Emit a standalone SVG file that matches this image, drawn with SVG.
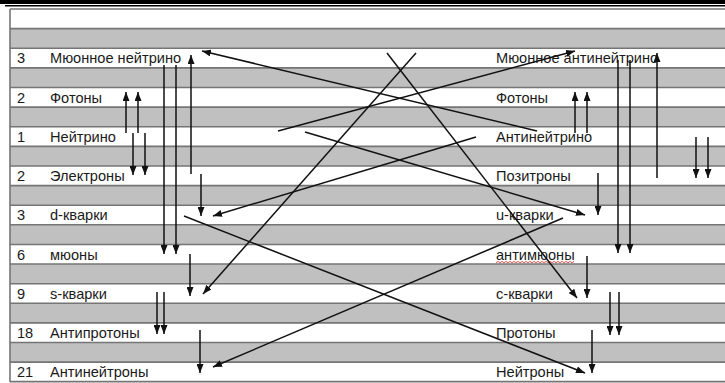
<svg xmlns="http://www.w3.org/2000/svg" width="725" height="383" viewBox="0 0 725 383">
<style>
.g{fill:#c0c0c0}
.hl{stroke:#757575;stroke-width:1.6}
.t{font-family:"Liberation Sans","DejaVu Sans",sans-serif;font-size:14.6px;fill:#1a1a1a}
.c line{stroke:#111;stroke-width:1.5;marker-end:url(#ah)}
</style>
<defs>
<marker id="ah" markerUnits="userSpaceOnUse" markerWidth="9" markerHeight="7" refX="9" refY="3.5" orient="auto">
<path d="M0,0 L9,3.5 L0,7 z" fill="#111"/>
</marker>
</defs>
<rect width="725" height="383" fill="#fff"/>
<rect x="0" y="0" width="725" height="4" fill="#000"/>
<line x1="5" y1="5.8" x2="725" y2="5.8" stroke="#000" stroke-width="1.5"/>
<g id="table">
<rect class="g" x="10" y="28.62" width="715" height="19.62"/>
<rect class="g" x="10" y="67.86" width="715" height="19.62"/>
<rect class="g" x="10" y="107.1" width="715" height="19.62"/>
<rect class="g" x="10" y="146.34" width="715" height="19.62"/>
<rect class="g" x="10" y="185.58" width="715" height="19.62"/>
<rect class="g" x="10" y="224.82" width="715" height="19.62"/>
<rect class="g" x="10" y="264.06" width="715" height="19.62"/>
<rect class="g" x="10" y="303.3" width="715" height="19.62"/>
<rect class="g" x="10" y="342.54" width="715" height="19.62"/>
<line class="hl" x1="10" y1="9" x2="725" y2="9"/>
<line class="hl" x1="10" y1="28.62" x2="725" y2="28.62"/>
<line class="hl" x1="10" y1="48.24" x2="725" y2="48.24"/>
<line class="hl" x1="10" y1="67.86" x2="725" y2="67.86"/>
<line class="hl" x1="10" y1="87.48" x2="725" y2="87.48"/>
<line class="hl" x1="10" y1="107.1" x2="725" y2="107.1"/>
<line class="hl" x1="10" y1="126.72" x2="725" y2="126.72"/>
<line class="hl" x1="10" y1="146.34" x2="725" y2="146.34"/>
<line class="hl" x1="10" y1="165.96" x2="725" y2="165.96"/>
<line class="hl" x1="10" y1="185.58" x2="725" y2="185.58"/>
<line class="hl" x1="10" y1="205.2" x2="725" y2="205.2"/>
<line class="hl" x1="10" y1="224.82" x2="725" y2="224.82"/>
<line class="hl" x1="10" y1="244.44" x2="725" y2="244.44"/>
<line class="hl" x1="10" y1="264.06" x2="725" y2="264.06"/>
<line class="hl" x1="10" y1="283.68" x2="725" y2="283.68"/>
<line class="hl" x1="10" y1="303.3" x2="725" y2="303.3"/>
<line class="hl" x1="10" y1="322.92" x2="725" y2="322.92"/>
<line class="hl" x1="10" y1="342.54" x2="725" y2="342.54"/>
<line class="hl" x1="10" y1="362.16" x2="725" y2="362.16"/>
<line class="hl" x1="10" y1="381.6" x2="725" y2="381.6"/>
<line class="hl" x1="10" y1="9" x2="10" y2="382"/>
</g>
<g id="left">
<g id="l1"><text class="t" x="17" y="63.4">3</text><text class="t" x="50" y="63.4">Мюонное нейтрино</text></g>
<g id="l2"><text class="t" x="17" y="102.7">2</text><text class="t" x="50" y="102.7">Фотоны</text></g>
<g id="l3"><text class="t" x="17" y="141.9">1</text><text class="t" x="50" y="141.9">Нейтрино</text></g>
<g id="l4"><text class="t" x="17" y="181.2">2</text><text class="t" x="50" y="181.2">Электроны</text></g>
<g id="l5"><text class="t" x="17" y="220.4">3</text><text class="t" x="50" y="220.4">d-кварки</text></g>
<g id="l6"><text class="t" x="17" y="259.6">6</text><text class="t" x="50" y="259.6">мюоны</text></g>
<g id="l7"><text class="t" x="17" y="298.9">9</text><text class="t" x="50" y="298.9">s-кварки</text></g>
<g id="l8"><text class="t" x="17" y="338.1">18</text><text class="t" x="50" y="338.1">Антипротоны</text></g>
<g id="l9"><text class="t" x="17" y="377.4">21</text><text class="t" x="50" y="377.4">Антинейтроны</text></g>
</g>
<g id="right">
<g id="r1"><text class="t" x="496" y="63.4">Мюонное антинейтрино</text></g>
<g id="r2"><text class="t" x="496" y="102.7">Фотоны</text></g>
<g id="r3"><text class="t" x="496" y="141.9">Антинейтрино</text></g>
<g id="r4"><text class="t" x="496" y="181.2">Позитроны</text></g>
<g id="r5"><text class="t" x="496" y="220.4">u-кварки</text></g>
<g id="r6"><text class="t" x="496" y="259.6">антимюоны</text><path d="M496,262.8 l2,-1.5 l2,1.5 l2,-1.5 l2,1.5 l2,-1.5 l2,1.5 l2,-1.5 l2,1.5 l2,-1.5 l2,1.5 l2,-1.5 l2,1.5 l2,-1.5 l2,1.5 l2,-1.5 l2,1.5 l2,-1.5 l2,1.5 l2,-1.5 l2,1.5 l2,-1.5 l2,1.5 l2,-1.5 l2,1.5 l2,-1.5 l2,1.5 l2,-1.5 l2,1.5 l2,-1.5 l2,1.5 l2,-1.5 l2,1.5 l2,-1.5 l2,1.5 l2,-1.5 l2,1.5 l2,-1.5 l2,1.5 l2,-1.5" fill="none" stroke="#e03030" stroke-width="0.8"/></g>
<g id="r7"><text class="t" x="496" y="298.9">c-кварки</text></g>
<g id="r8"><text class="t" x="496" y="338.1">Протоны</text></g>
<g id="r9"><text class="t" x="496" y="377.4">Нейтроны</text></g>
</g>
<g id="connectors" class="c">
<line x1="126" y1="133" x2="126" y2="92"/>
<line x1="138" y1="133" x2="138" y2="92"/>
<line x1="133" y1="133" x2="133" y2="175"/>
<line x1="145" y1="133" x2="145" y2="175"/>
<line x1="164" y1="65" x2="164" y2="254"/>
<line x1="176" y1="65" x2="176" y2="254"/>
<line x1="191" y1="174" x2="191" y2="55"/>
<line x1="201" y1="174" x2="201" y2="216"/>
<line x1="190" y1="254" x2="190" y2="296"/>
<line x1="157" y1="292" x2="157" y2="334"/>
<line x1="164" y1="292" x2="164" y2="334"/>
<line x1="200" y1="330" x2="200" y2="373"/>
<line x1="575" y1="133" x2="575" y2="92"/>
<line x1="587" y1="133" x2="587" y2="92"/>
<line x1="618" y1="60" x2="618" y2="253"/>
<line x1="630" y1="60" x2="630" y2="253"/>
<line x1="657" y1="178" x2="657" y2="53"/>
<line x1="696" y1="137" x2="696" y2="178"/>
<line x1="708" y1="137" x2="708" y2="178"/>
<line x1="598" y1="173" x2="598" y2="215"/>
<line x1="587" y1="256" x2="587" y2="298"/>
<line x1="610" y1="292" x2="610" y2="335"/>
<line x1="619" y1="292" x2="619" y2="335"/>
<line x1="592" y1="330" x2="592" y2="373"/>
<line x1="537" y1="131" x2="202" y2="51"/>
<line x1="278" y1="131" x2="575" y2="51"/>
<line x1="387" y1="53" x2="577" y2="298"/>
<line x1="416" y1="53" x2="203" y2="294"/>
<line x1="305" y1="132" x2="585" y2="215"/>
<line x1="476" y1="137" x2="213" y2="216"/>
<line x1="184" y1="216" x2="585" y2="373"/>
<line x1="563" y1="218" x2="213" y2="367"/>
</g>
</svg>
